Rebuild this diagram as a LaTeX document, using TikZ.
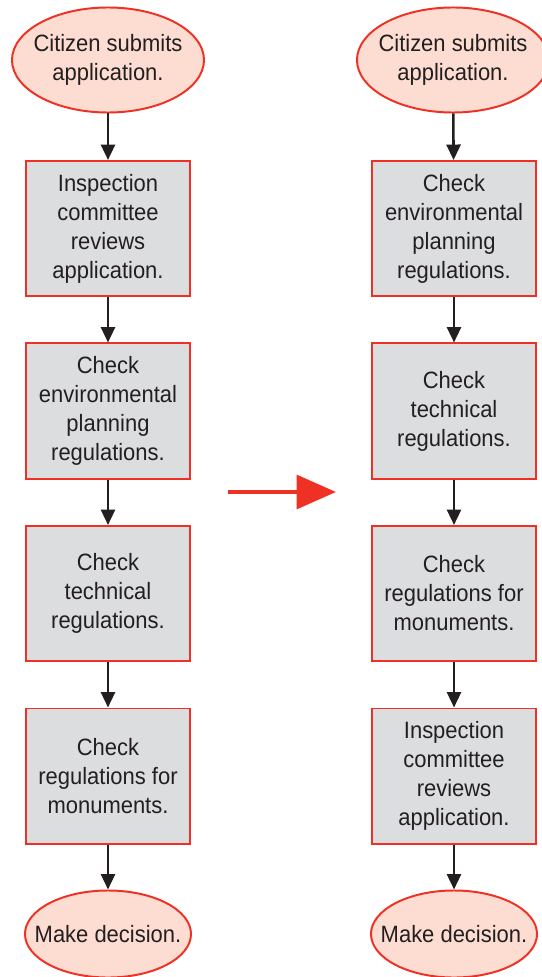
\documentclass[tikz,border=0pt]{standalone}
\usepackage{fontspec}
\setmainfont{Liberation Sans}[FakeStretch=0.93]
\usetikzlibrary{positioning, arrows.meta, shapes}
\definecolor{framered}{RGB}{238,49,36}
\definecolor{startfill}{RGB}{253,221,209}
\definecolor{boxfill}{RGB}{220,221,223}
\definecolor{inkgray}{RGB}{35,31,32}

\begin{document}
\begin{tikzpicture}[x=0.025cm, y=-0.025cm,
    every node/.style={text=inkgray, align=center, font=\fontsize{16.8}{20.6}\selectfont},
    stepbox/.style={draw=framered, fill=boxfill, line width=1.4pt, minimum width=4.1cm, minimum height=3.375cm, inner sep=0pt},
    startoval/.style={ellipse, draw=framered, fill=startfill, line width=1.4pt, minimum width=4.8cm, minimum height=2.625cm, inner sep=-60pt},
    endoval/.style={ellipse, draw=framered, fill=startfill, line width=1.4pt, minimum width=4.15cm, minimum height=2.175cm, inner sep=-60pt},
    flow/.style={draw=inkgray, line width=1.8pt, -{Triangle[length=11pt, width=10pt]}}]
    \useasboundingbox (0,0) rectangle (541,977);

    % Linke Spalte (vorher)
    \node[startoval] (l0) at (108,60) {Citizen submits\\application.};
    \node[stepbox] (l1) at (108,228.5) {Inspection\\committee\\reviews\\application.};
    \node[stepbox] (l2) at (108,411) {Check\\environmental\\planning\\regulations.};
    \node[stepbox] (l3) at (108,593.5) {Check\\technical\\regulations.};
    \node[stepbox] (l4) at (108,776) {Check\\regulations for\\monuments.};
    \node[endoval] (l5) at (108,934) {Make decision.};

    % Rechte Spalte (nachher)
    \node[startoval] (r0) at (453,60) {Citizen submits\\application.};
    \node[stepbox] (r1) at (454,228.5) {Check\\environmental\\planning\\regulations.};
    \node[stepbox] (r2) at (454,411) {Check\\technical\\regulations.};
    \node[stepbox] (r3) at (454,593.5) {Check\\regulations for\\monuments.};
    \node[stepbox] (r4) at (454,776) {Inspection\\committee\\reviews\\application.};
    \node[endoval] (r5) at (454,934) {Make decision.};

    % Verbindungen
    \foreach \a/\b in {l0/l1, l1/l2, l2/l3, l3/l4, l4/l5, r0/r1, r1/r2, r2/r3, r3/r4, r4/r5}
        \draw[flow] (\a) -- (\b);

    % Umstellung
    \coordinate (from) at (228,492);
    \coordinate (to) at (336,492);
    \draw[framered, line width=2.8pt, -{Triangle[length=28pt, width=24pt]}] (from) -- (to);
\end{tikzpicture}
\end{document}
